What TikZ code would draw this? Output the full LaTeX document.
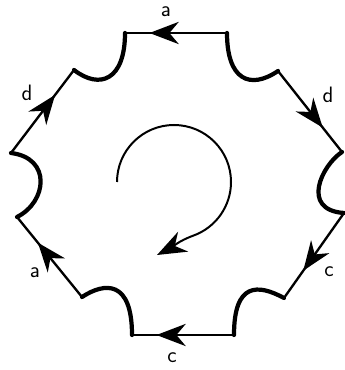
\documentclass[tikz,border=0pt]{standalone}
\usetikzlibrary{arrows.meta, decorations.markings}

\begin{document}
\begin{tikzpicture}[
        x = 0.03cm, y = 0.03cm,
        >= {Stealth[length = 25pt, width = 19pt, inset = 8pt]},
        side/.style = {line width = 2pt, postaction = {decorate},
            decoration = {markings, mark = at position #1 with {\arrow{>}}}},
        side/.default = 0.76,
        notch/.style = {line width = 3.6pt, line cap = round},
        every node/.style = {font = \sffamily\fontsize{19}{22}\selectfont}
    ]
      \useasboundingbox (0,0) rectangle (345,370);
      \coordinate (v1) at (125,337);
      \coordinate (v2) at (227,337);
      \coordinate (v3) at (278,299);
      \coordinate (v4) at (342,218);
      \coordinate (v5) at (344,157);
      \coordinate (v6) at (284,72);
      \coordinate (v7) at (234,35);
      \coordinate (v8) at (132,35);
      \coordinate (v9) at (82,73);
      \coordinate (v10) at (17,153);
      \coordinate (v11) at (11,217);
      \coordinate (v12) at (74,300);

      \draw[side] (v2) -- (v1);
      \draw[side = 0.7] (v3) -- (v4);
      \draw[side = 0.68] (v5) -- (v6);
      \draw[side] (v7) -- (v8);
      \draw[side = 0.68] (v9) -- (v10);
      \draw[side = 0.7] (v11) -- (v12);

      \draw[notch] (v2) .. controls (227,290) and (250,280) .. (v3);
      \draw[notch] (v4) .. controls (322,205) and (300,160) .. (v5);
      \draw[notch] (v6) .. controls (258,86) and (234,88) .. (v7);
      \draw[notch] (v8) .. controls (132,90) and (105,88) .. (v9);
      \draw[notch] (v10) .. controls (47,168) and (52,212) .. (v11);
      \draw[notch] (v12) .. controls (100,280) and (125,290) .. (v1);

      \node (top) at (166,358) {a};
      \node (upright) at (328,275) {d};
      \node (lowright) at (329,98) {c};
      \node (bottom) at (172,12) {c};
      \node (lowleft) at (35,97) {a};
      \node (upleft) at (27,277) {d};

      \draw[line width = 1.7pt, ->] (117,188) arc[start angle = 180, end angle = -70, radius = 57]
        to[out = -160, in = 27] (157,115);
    \end{tikzpicture}
\end{document}
